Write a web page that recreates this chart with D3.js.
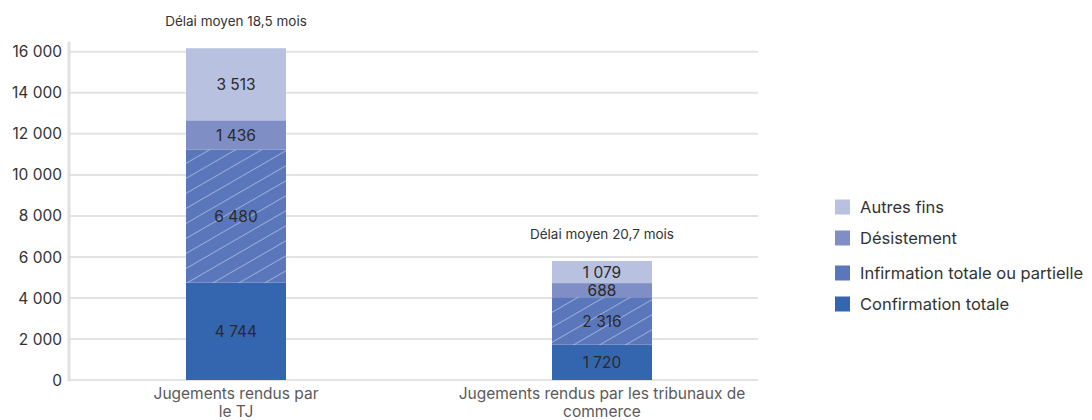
<!DOCTYPE html>
<html><head><meta charset="utf-8">
<script src="https://cdn.jsdelivr.net/npm/d3@7"></script>
<style>body{margin:0;background:#fff;font-family:Inter,"Noto Sans",sans-serif;}</style>
</head><body><svg id="c" width="1092" height="420"></svg>
<script>
const categories = [["Jugements rendus par","le TJ"],["Jugements rendus par les tribunaux de","commerce"]];
const seriesNames = ["Confirmation totale","Infirmation totale ou partielle","Désistement","Autres fins"];
const confirmation = [4744, 1720];
const infirmation = [6480, 2316];
const desistement = [1436, 688];
const autres = [3513, 1079];
const delais = ["Délai moyen 18,5 mois","Délai moyen 20,7 mois"];
const yTicks = [0,2000,4000,6000,8000,10000,12000,14000,16000];
const colors = ["#3466b0","#5b77bc","#7f8fc6","#b8c1e0"];

const svg = d3.select("#c");
const fmt = v => d3.format(",")(v).replace(/,/g, " ");
const y = d3.scaleLinear().domain([0,16000]).range([380,51.8]);
const x = d3.scaleBand().domain([0,1]).range([53,785]);
const barW = 100;
const plotL = 69, plotR = 758;

const defs = svg.append("defs");
const pat = defs.append("pattern").attr("id","hatch").attr("patternUnits","userSpaceOnUse")
  .attr("width",13).attr("height",13).attr("patternTransform","rotate(60)");
pat.append("rect").attr("width",13).attr("height",13).attr("fill",colors[1]);
pat.append("line").attr("x1",0).attr("y1",0).attr("x2",0).attr("y2",13)
  .attr("stroke","#ffffff").attr("stroke-opacity",0.7).attr("stroke-width",1.1);

// grid
svg.append("g").selectAll("line").data(yTicks).join("line")
  .attr("x1",plotL).attr("x2",plotR).attr("y1",d=>y(d)).attr("y2",d=>y(d))
  .attr("stroke","#e3e3e3").attr("stroke-width",2);
svg.append("line").attr("x1",plotL).attr("x2",plotL).attr("y1",y(0)+1.5).attr("y2",y(16000)-10)
  .attr("stroke","#e0e0e0").attr("stroke-width",3);

// y labels
svg.append("g").selectAll("text").data(yTicks).join("text")
  .attr("x",62).attr("y",d=>y(d)).attr("dy","0.36em").attr("text-anchor","end")
  .attr("font-size",15.5).attr("fill","#333").text(d=>fmt(d));

// stack
const table = categories.map((c,i)=>({i, c0:confirmation[i], c1:infirmation[i], c2:desistement[i], c3:autres[i]}));
const stack = d3.stack().keys(["c0","c1","c2","c3"])(table);
stack.forEach((layer,k)=>{
  const g = svg.append("g");
  g.selectAll("rect").data(layer).join("rect")
    .attr("x",d=>x(d.data.i)+x.bandwidth()/2-barW/2).attr("width",barW)
    .attr("y",d=>y(d[1])).attr("height",d=>y(d[0])-y(d[1]))
    .attr("fill", k===1 ? "url(#hatch)" : colors[k]);
  g.selectAll("text").data(layer).join("text")
    .attr("x",d=>x(d.data.i)+x.bandwidth()/2).attr("y",d=>(y(d[0])+y(d[1]))/2).attr("dy","0.36em")
    .attr("text-anchor","middle").attr("font-size",15.5).attr("fill","#2a2a2a")
    .text(d=>fmt(d[1]-d[0]));
});

// delai annotations
const totals = table.map(d=>d.c0+d.c1+d.c2+d.c3);
svg.append("g").selectAll("text").data(delais).join("text")
  .attr("x",(d,i)=>x(i)+x.bandwidth()/2).attr("y",(d,i)=>y(totals[i])-27).attr("dy","0.36em")
  .attr("text-anchor","middle").attr("font-size",13.5).attr("fill","#333").text(d=>d);

// x labels
categories.forEach((c,i)=>{
  const t = svg.append("text").attr("text-anchor","middle").attr("font-size",15.5).attr("fill","#5a5a5a");
  c.forEach((line,j)=>t.append("tspan").attr("x",x(i)+x.bandwidth()/2).attr("y",399+j*18).text(line));
});

// legend
const legendOrder = [3,2,1,0];
const legendY = [207,238,273,304];
const lg = svg.append("g").selectAll("g").data(legendOrder).join("g")
  .attr("transform",(d,i)=>`translate(835,${legendY[i]})`);
lg.append("rect").attr("x",0).attr("y",-7.5).attr("width",15).attr("height",15)
  .attr("fill",d=>colors[d]);
lg.append("text").attr("x",25).attr("dy","0.36em").attr("font-size",16.5).attr("fill","#333")
  .text(d=>seriesNames[d]);
</script></body></html>
